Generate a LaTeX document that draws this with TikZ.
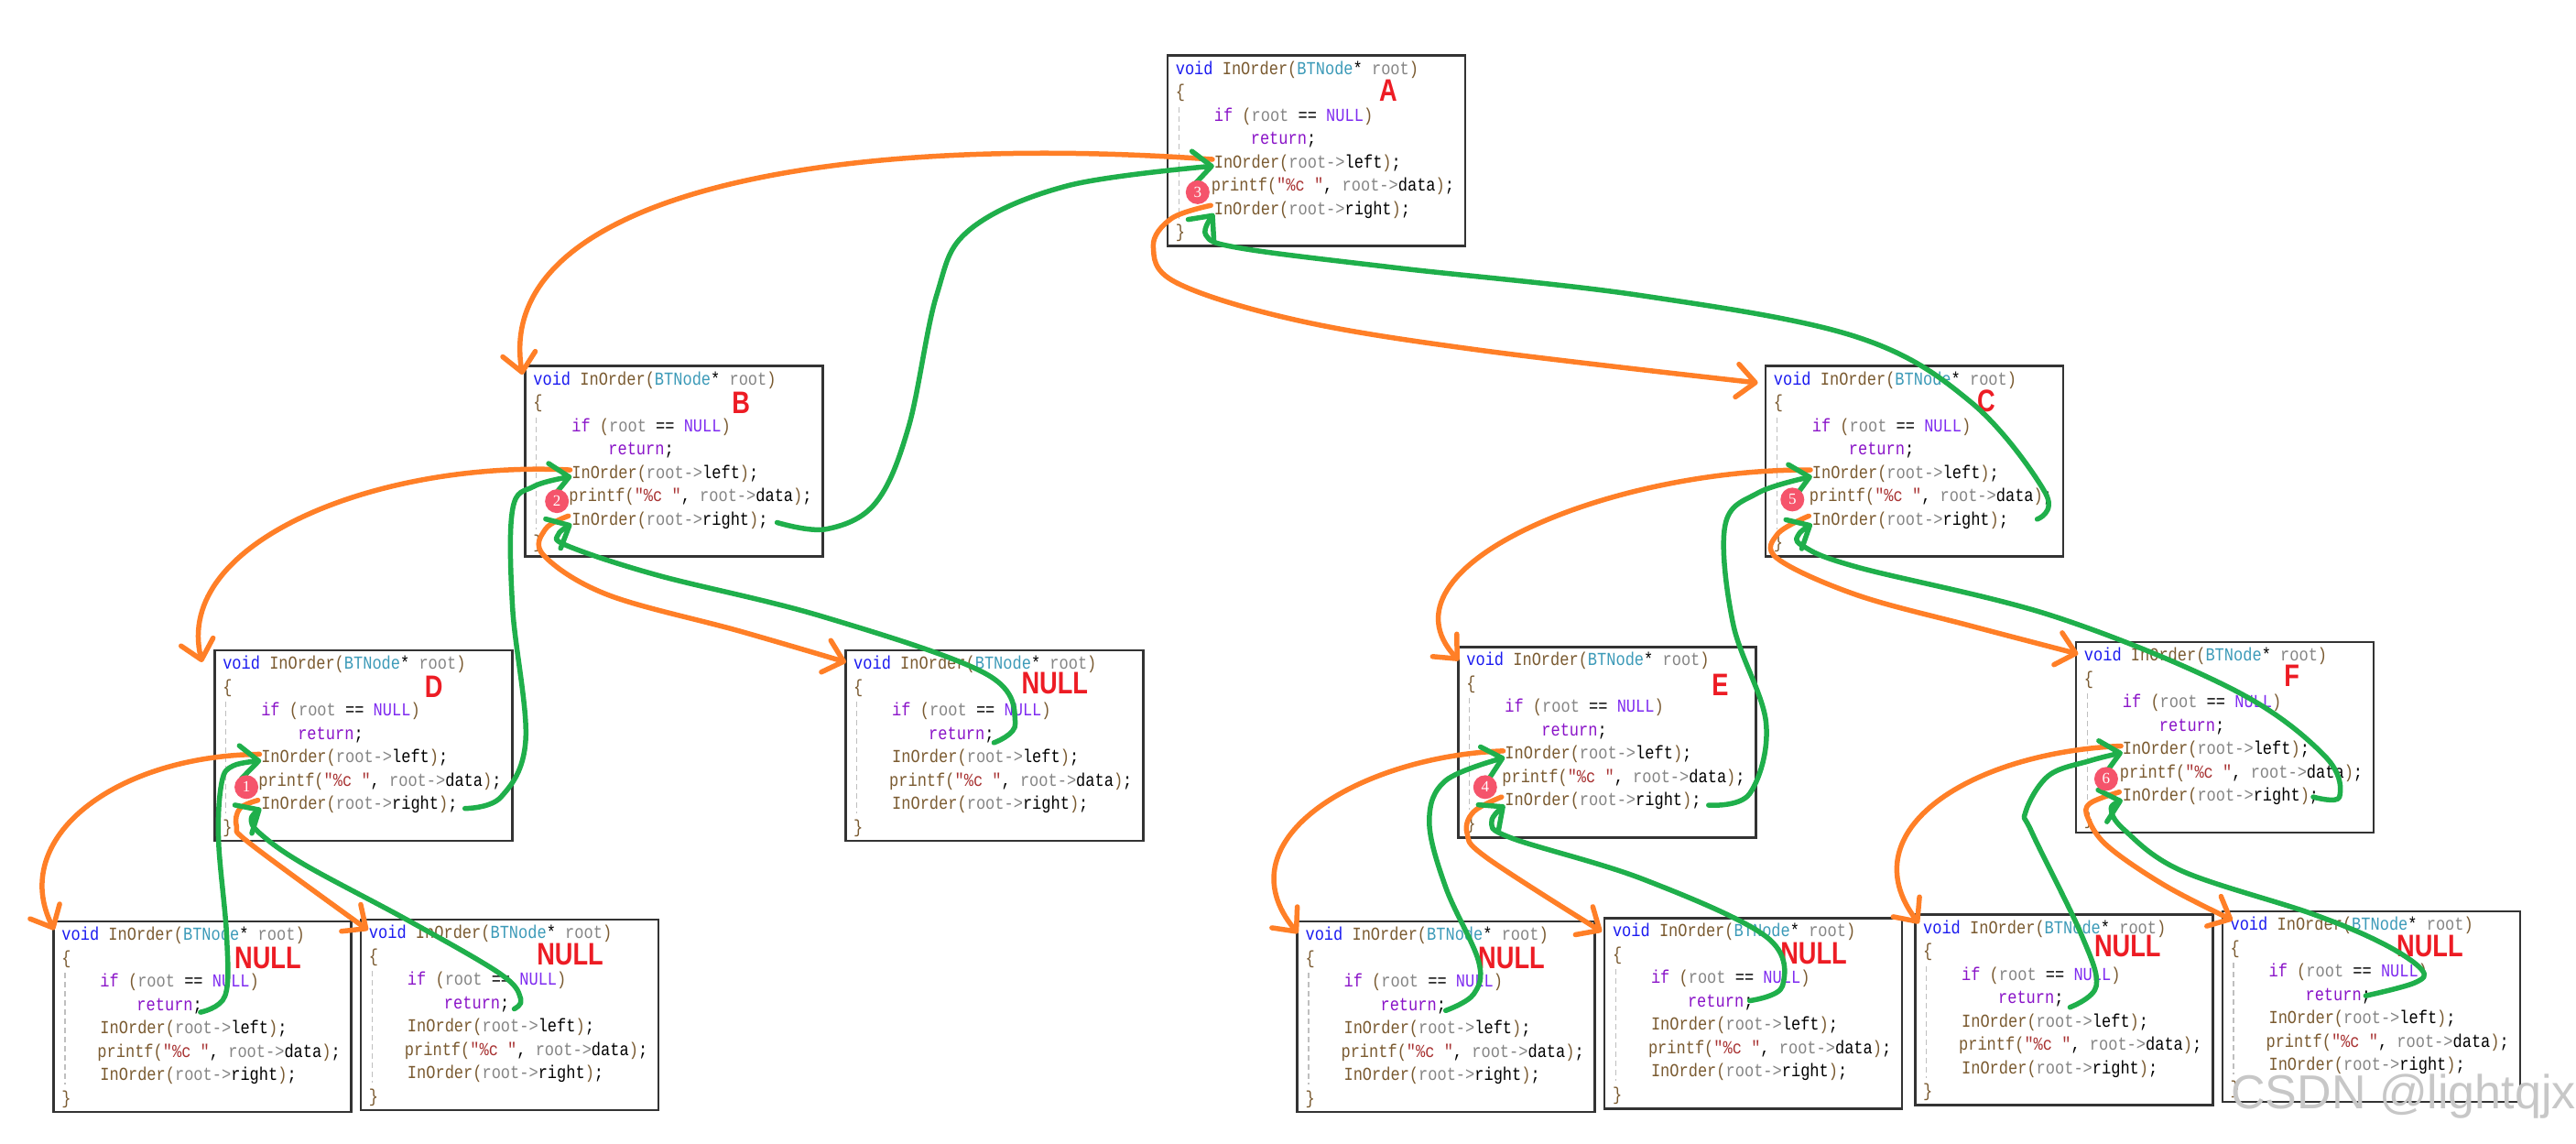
\documentclass[tikz,border=0pt]{standalone}
\usepackage{fontspec}
\usetikzlibrary{arrows.meta}
\newfontfamily\codefont[FakeStretch=0.85]{Liberation Mono}
\newfontfamily\tagfont[FakeStretch=0.8]{Liberation Sans}
\newfontfamily\marksans{Liberation Sans}
\newfontfamily\badgefont{Liberation Serif}
\definecolor{cvoid}{HTML}{1A1AF0}
\definecolor{cfn}{HTML}{7A5A30}
\definecolor{ctype}{HTML}{3C9AB8}
\definecolor{cvar}{HTML}{858585}
\definecolor{ckw}{HTML}{8A14C8}
\definecolor{cnull}{HTML}{7F2BF0}
\definecolor{cstr}{HTML}{A83232}
\definecolor{gr}{HTML}{1FAF4B}
\definecolor{og}{HTML}{FF7F27}
\definecolor{tagred}{HTML}{ED1C24}
\definecolor{badge}{HTML}{F5546B}
\newcommand\cV[1]{\textcolor{cvoid}{#1}}
\newcommand\cF[1]{\textcolor{cfn}{#1}}
\newcommand\cT[1]{\textcolor{ctype}{#1}}
\newcommand\cR[1]{\textcolor{cvar}{#1}}
\newcommand\cK[1]{\textcolor{ckw}{#1}}
\newcommand\cN[1]{\textcolor{cnull}{#1}}
\newcommand\cS[1]{\textcolor{cstr}{#1}}
\newcommand\codetext{%
\cV{void} \cF{InOrder}\cF{(}\cT{BTNode}* \cR{root}\cF{)}\\
\cF{\{}\\
\hspace*{42pt}\cK{if} \cF{(}\cR{root} == \cN{NULL}\cF{)}\\
\hspace*{82pt}\cK{return};\\
\hspace*{42pt}\cF{InOrder(}\cR{root->}left\cF{)};\\
\hspace*{39pt}\cF{printf(}\cS{"\%c "}, \cR{root->}data\cF{)};\\
\hspace*{42pt}\cF{InOrder(}\cR{root->}right\cF{)};\\
\cF{\}}}
\tikzset{
  codebox/.style={draw=black!80,line width=2.5pt,fill=white,minimum width=325pt,minimum height=208pt,anchor=north west,inner sep=0pt},
  codelines/.style={anchor=north west,inner sep=0pt,align=left,font=\codefont\fontsize{20}{25.5}\selectfont},
  guide/.style={draw=black!25,line width=1.4pt,dash pattern=on 6pt off 4pt},
  tagtext/.style={text=tagred,font=\tagfont\bfseries\fontsize{34}{34}\selectfont,inner sep=0pt},
  badgedot/.style={circle,fill=badge,text=white,minimum size=26pt,inner sep=0pt,font=\badgefont\fontsize{17}{17}\selectfont},
  flow/.style={line width=5.5pt,line cap=round,line join=round,-{Straight Barb[length=20pt,width=36pt,round]}},
  call/.style={flow,draw=og},
  back/.style={flow,draw=gr},
}
% #1 name, #2 x, #3 y, #4 tag, #5 tag x, #6 tag y
\newcommand\codeblock[6]{%
  \node[codebox] (#1) at (#2,#3) {};
  \node[codelines] (#1-code) at (#2+5.5,#3+4) {\codetext};
  \draw[guide] (#2+7.5,#3+32) -- (#2+7.5,#3+100);
  \node[tagtext] (#1-tag) at (#5,#6) {#4};
  \coordinate (#1-left) at (#2+28,#3+64);
  \coordinate (#1-lefttip) at (#2+29,#3+68);
  \coordinate (#1-right) at (#2+27,#3+92);
  \coordinate (#1-righttip) at (#2+29,#3+97);
}
\begin{document}
\begin{tikzpicture}[x=1.794pt,y=-1.794pt]
\useasboundingbox[fill=white] (0,0) rectangle (1568,696.2);
\codeblock{A}{710}{33}{A}{845}{55}
\codeblock{B}{319}{222}{B}{451}{245}
\codeblock{C}{1074}{222}{C}{1209}{244}
\codeblock{D}{130}{395}{D}{264}{418}
\codeblock{N1}{514}{395}{NULL}{642}{416}
\codeblock{E}{887}{393}{E}{1047}{417}
\codeblock{F}{1263}{390}{F}{1395}{411}
\codeblock{G1}{32}{560}{NULL}{163}{583}
\codeblock{G2}{219}{559}{NULL}{347}{581}
\codeblock{G3}{789}{560}{NULL}{920}{583}
\codeblock{G4}{976}{558}{NULL}{1104}{580}
\codeblock{G5}{1165}{556}{NULL}{1295}{576}
\codeblock{G6}{1352}{554}{NULL}{1479}{576}
% arrival points
\coordinate (B-in) at (318,228);
\coordinate (C-in) at (1070,233);
\coordinate (D-in) at (123,403);
\coordinate (N1-in) at (515,403);
\coordinate (E-in) at (888,402);
\coordinate (F-in) at (1265,398);
\coordinate (G1-in) at (33,566);
\coordinate (G2-in) at (224,566);
\coordinate (G3-in) at (790,568);
\coordinate (G4-in) at (975,567);
\coordinate (G5-in) at (1168,562);
\coordinate (G6-in) at (1359,560);
% return starts
\coordinate (B-end) at (473,318);
\coordinate (C-end) at (1240,316);
\coordinate (D-end) at (283,492);
\coordinate (N1-end) at (605,452);
\coordinate (E-end) at (1040,490);
\coordinate (F-end) at (1408,485);
\coordinate (G1-end) at (122,616);
\coordinate (G2-end) at (313,614);
\coordinate (G3-end) at (880,615);
\coordinate (G4-end) at (1065,609);
\coordinate (G5-end) at (1260,613);
\coordinate (G6-end) at (1440,606);
% calls
\draw[call] (A-left) .. controls (500,80) and (300,120) .. (B-in);
\draw[call] plot[smooth,tension=0.6] coordinates {(A-right) (713,133) (702,150) (716,172) (790,195) (900,213) (C-in)};
\draw[call] (B-left) .. controls (230,280) and (105,330) .. (D-in);
\draw[call] plot[smooth,tension=0.6] coordinates {(B-right) (332,322) (331,338) (370,362) (450,384) (N1-in)};
\draw[call] (C-left) .. controls (980,285) and (835,345) .. (E-in);
\draw[call] plot[smooth,tension=0.6] coordinates {(C-right) (1082,325) (1082,340) (1130,362) (1200,381) (F-in)};
\draw[call] (D-left) .. controls (70,460) and (5,510) .. (G1-in);
\draw[call] plot[smooth,tension=0.6] coordinates {(D-right) (146,492) (144,503) (153,514) (G2-in)};
\draw[call] (E-left) .. controls (830,460) and (742,510) .. (G3-in);
\draw[call] plot[smooth,tension=0.6] coordinates {(E-right) (897,494) (893,507) (905,522) (G4-in)};
\draw[call] (F-left) .. controls (1200,458) and (1125,505) .. (G5-in);
\draw[call] plot[smooth,tension=0.6] coordinates {(F-right) (1272,489) (1271,498) (1283,515) (1318,539) (G6-in)};
% returns
\draw[back] plot[smooth,tension=0.6] coordinates {(B-end) (503,322) (533,306) (553,260) (570,180) (590,140) (650,113) (A-lefttip)};
\draw[back] plot[smooth,tension=0.6] coordinates {(C-end) (1245,300) (1200,245) (1130,205) (1000,180) (850,163) (755,151) (734,143) (A-righttip)};
\draw[back] plot[smooth,tension=0.6] coordinates {(D-end) (305,485) (320,450) (312,370) (312,310) (325,296) (B-lefttip)};
\draw[back] plot[smooth,tension=0.6] coordinates {(N1-end) (618,440) (600,410) (500,375) (400,350) (345,332) (340,325) (B-righttip)};
\draw[back] plot[smooth,tension=0.6] coordinates {(E-end) (1065,483) (1075,440) (1055,380) (1050,320) (1070,300) (C-lefttip)};
\draw[back] plot[smooth,tension=0.6] coordinates {(F-end) (1424,485) (1415,460) (1360,420) (1250,375) (1130,345) (1097,332) (1095,325) (C-righttip)};
\draw[back] plot[smooth,tension=0.6] coordinates {(G1-end) (137,606) (138,570) (133,511) (135,476) (142,466) (D-lefttip)};
\draw[back] plot[smooth,tension=0.6] coordinates {(G2-end) (317,608) (305,593) (250,561) (185,526) (158,507) (153,498) (D-righttip)};
\draw[back] plot[smooth,tension=0.6] coordinates {(G3-end) (897,605) (900,585) (880,540) (870,500) (880,475) (E-lefttip)};
\draw[back] plot[smooth,tension=0.6] coordinates {(G4-end) (1085,600) (1075,570) (1000,535) (920,510) (908,500) (E-righttip)};
\draw[back] plot[smooth,tension=0.6] coordinates {(G5-end) (1276,600) (1267,569) (1237,507) (1233,494) (1247,472) (1272,463) (F-lefttip)};
\draw[back] plot[smooth,tension=0.6] coordinates {(G6-end) (1470,598) (1474,590) (1450,574) (1407,556) (1328,530) (1293,505) (1285,492) (F-righttip)};
% order badges
\node[badgedot] (b3) at (729,117) {3};
\node[badgedot] (b2) at (339,305) {2};
\node[badgedot] (b1) at (150,479) {1};
\node[badgedot] (b5) at (1091,304) {5};
\node[badgedot] (b4) at (904,479) {4};
\node[badgedot] (b6) at (1282,474) {6};
\node[text=black!22,font=\marksans\fontsize{52}{52}\selectfont,anchor=east,inner sep=0pt] (wm) at (1568,667) {CSDN @lightqjx};
\end{tikzpicture}
\end{document}
